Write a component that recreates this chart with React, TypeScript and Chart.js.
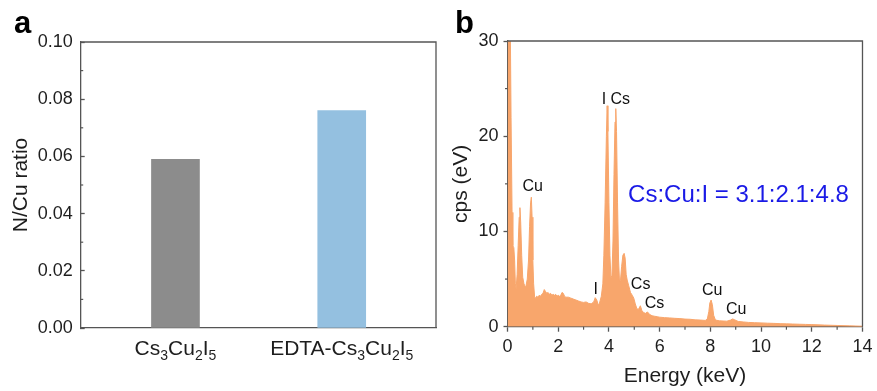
import React, { useEffect, useRef } from 'react';
import { Chart, registerables } from 'chart.js';

Chart.register(...registerables);

const FONT = "Arial, 'Liberation Sans', Helvetica, sans-serif";
const AXIS = '#555555';
const TEXT = '#1e1e1e';

// ---------- Panel a data ----------
const barLabels = ['Cs3Cu2I5', 'EDTA-Cs3Cu2I5'];
const barValues = [0.059, 0.076];
const barColors = ['#8c8c8c', '#94c0e0'];
const ratioMin = 0;
const ratioMax = 0.1;
const ratioStep = 0.02;
const ratioMinorTicks = [0.01, 0.03, 0.05, 0.07, 0.09];

// ---------- Panel b data ----------
const energyKeV = [
  0, 0.05, 0.1, 0.14, 0.18, 0.21, 0.25, 0.28, 0.31, 0.34, 0.38, 0.42, 0.46, 0.49, 0.52, 0.56, 0.6, 0.65, 0.7, 0.73,
  0.78, 0.83, 0.87, 0.91, 0.94, 0.97, 1.0, 1.03, 1.07, 1.1, 1.15, 1.2, 1.25, 1.3, 1.35, 1.4, 1.45, 1.5, 1.55, 1.6,
  1.65, 1.7, 1.75, 1.8, 1.85, 1.9, 1.95, 2.0, 2.05, 2.1, 2.15, 2.2, 2.25, 2.3, 2.4, 2.5, 2.6, 2.7, 2.8, 2.9,
  3.0, 3.1, 3.2, 3.3, 3.4, 3.46, 3.52, 3.58, 3.62, 3.7, 3.76, 3.8, 3.85, 3.9, 3.93, 3.96, 4.0, 4.04, 4.08, 4.12,
  4.16, 4.2, 4.24, 4.27, 4.3, 4.34, 4.38, 4.42, 4.46, 4.5, 4.55, 4.6, 4.64, 4.68, 4.72, 4.78, 4.85, 4.92, 4.98, 5.04,
  5.1, 5.16, 5.24, 5.3, 5.36, 5.44, 5.52, 5.6, 5.7, 5.8, 5.9, 6.0, 6.2, 6.4, 6.6, 6.8, 7.0, 7.2, 7.4, 7.6,
  7.8, 7.88, 7.94, 7.98, 8.03, 8.08, 8.13, 8.2, 8.35, 8.5, 8.65, 8.8, 8.88, 8.96, 9.1, 9.3, 9.5, 9.75, 10.0, 10.25,
  10.5, 10.75, 11.0, 11.25, 11.5, 11.75, 12.0, 12.5, 13.0, 13.5, 14.0,
];
const cps = [
  40, 45, 35, 22, 12, 8.5, 8.3, 7.0, 4.5, 4.0, 5.5, 8.5, 11.5, 12.5, 11.0, 7.5, 5.2, 4.5, 4.2, 4.3,
  5.0, 7.0, 10.5, 13.0, 13.6, 11.5, 7.0, 4.5, 3.1, 3.0, 3.2, 3.1, 3.3, 3.2, 3.4, 3.5, 3.9, 3.7, 3.5, 3.6,
  3.4, 3.5, 3.3, 3.4, 3.3, 3.4, 3.2, 3.3, 3.2, 3.3, 3.6, 3.5, 3.2, 3.1, 3.1, 3.0, 2.9, 2.8, 2.7, 2.6,
  2.55, 2.6, 2.45, 2.4, 2.6, 3.05, 2.8, 2.3, 2.4, 3.2, 4.5, 7.5, 13, 20, 23.2, 20.5, 13, 7.5, 5.1, 5.4,
  9, 16, 21.5, 22.9, 20.5, 13, 7.0, 4.6, 5.0, 6.3, 7.5, 7.7, 7.2, 5.5, 4.9, 4.3, 3.6, 3.3, 3.0, 2.4,
  1.9, 1.8, 2.2, 1.7, 1.5, 1.4, 1.55, 1.3, 1.15, 1.1, 1.05, 1.0, 0.95, 0.92, 0.88, 0.85, 0.8, 0.78, 0.72, 0.7,
  0.66, 0.8, 1.6, 2.5, 2.8, 2.3, 1.2, 0.7, 0.62, 0.6, 0.58, 0.7, 0.82, 0.72, 0.55, 0.5, 0.45, 0.42, 0.4, 0.37,
  0.35, 0.32, 0.3, 0.28, 0.26, 0.24, 0.22, 0.17, 0.13, 0.09, 0.05,
];
const energyMin = 0;
const energyMax = 14;
const energyStep = 2;
const energyMinorTicks = [1, 3, 5, 7, 9, 11, 13];
const cpsMin = 0;
const cpsMax = 30;
const cpsStep = 10;
const cpsMinorTicks = [5, 15, 25];
const spectrumColor = '#f8a66c';

const peakLabels = ['Cu', 'I', 'Cs', 'I', 'Cs', 'Cs', 'Cu', 'Cu'];
const peakLabelEnergy = [0.99, 3.8, 4.45, 3.48, 5.25, 5.8, 8.07, 9.02];
const peakLabelCps = [14.7, 23.8, 23.8, 3.9, 4.4, 2.45, 3.75, 1.75];
const ratioText = 'Cs:Cu:I = 3.1:2.1:4.8';
const ratioTextEnergy = 9.11;
const ratioTextCps = 13.8;

// ---------- helpers ----------
function drawFormula(ctx: CanvasRenderingContext2D, text: string, cx: number, baseline: number, size: number, subSize: number, drop: number) {
  const runs: { t: string; sub: boolean }[] = [];
  const re = /(\d+)|(\D+)/g;
  let m: RegExpExecArray | null;
  while ((m = re.exec(text))) runs.push({ t: m[0], sub: !!m[1] });
  let total = 0;
  const widths = runs.map((r) => {
    ctx.font = `${r.sub ? subSize : size}px ${FONT}`;
    const w = ctx.measureText(r.t).width;
    total += w;
    return w;
  });
  let x = cx - total / 2;
  ctx.textAlign = 'left';
  ctx.textBaseline = 'alphabetic';
  runs.forEach((r, i) => {
    ctx.font = `${r.sub ? subSize : size}px ${FONT}`;
    ctx.fillText(r.t, x, r.sub ? baseline + drop : baseline);
    x += widths[i];
  });
}

const framePlugin = {
  id: 'frame',
  afterDraw(chart: any) {
    const { ctx, chartArea: a } = chart;
    ctx.save();
    ctx.strokeStyle = AXIS;
    ctx.lineWidth = 1.3;
    ctx.beginPath();
    ctx.moveTo(a.left, a.top);
    ctx.lineTo(a.right, a.top);
    ctx.lineTo(a.right, a.bottom);
    ctx.stroke();
    ctx.restore();
  },
};

function minorTicksPlugin(defs: { axis: string; values: number[]; len: number }[]) {
  return {
    id: 'minorTicks',
    afterDraw(chart: any) {
      const ctx = chart.ctx;
      ctx.save();
      ctx.strokeStyle = AXIS;
      ctx.lineWidth = 1.2;
      for (const d of defs) {
        const s = chart.scales[d.axis];
        for (const v of d.values) {
          const p = s.getPixelForValue(v);
          ctx.beginPath();
          if (s.isHorizontal()) {
            ctx.moveTo(p, s.top);
            ctx.lineTo(p, s.top + d.len);
          } else {
            ctx.moveTo(s.right, p);
            ctx.lineTo(s.right - d.len, p);
          }
          ctx.stroke();
        }
      }
      ctx.restore();
    },
  };
}

function letterPlugin(letter: string, x: number, y: number) {
  return {
    id: 'letter',
    afterDraw(chart: any) {
      const ctx = chart.ctx;
      ctx.save();
      ctx.fillStyle = '#000';
      ctx.font = `bold 31px ${FONT}`;
      ctx.textAlign = 'left';
      ctx.textBaseline = 'alphabetic';
      ctx.fillText(letter, x, y);
      ctx.restore();
    },
  };
}

const categoryLabelPlugin = {
  id: 'categoryLabels',
  afterDraw(chart: any) {
    const ctx = chart.ctx;
    const xs = chart.scales.x;
    ctx.save();
    ctx.fillStyle = TEXT;
    barLabels.forEach((lab, i) => {
      drawFormula(ctx, lab, xs.getPixelForValue(i), xs.top + 27, 21, 14, 5);
    });
    ctx.restore();
  },
};

const peakLabelPlugin = {
  id: 'peakLabels',
  afterDraw(chart: any) {
    const ctx = chart.ctx;
    const xs = chart.scales.x;
    const ys = chart.scales.y;
    ctx.save();
    ctx.textAlign = 'center';
    ctx.textBaseline = 'middle';
    ctx.fillStyle = '#111';
    ctx.font = `16px ${FONT}`;
    peakLabels.forEach((lab, i) => {
      ctx.fillText(lab, xs.getPixelForValue(peakLabelEnergy[i]), ys.getPixelForValue(peakLabelCps[i]));
    });
    ctx.fillStyle = '#1a1ae6';
    ctx.font = `24px ${FONT}`;
    ctx.fillText(ratioText, xs.getPixelForValue(ratioTextEnergy), ys.getPixelForValue(ratioTextCps));
    ctx.restore();
  },
};

function PanelA() {
  const ref = useRef<HTMLCanvasElement>(null);
  useEffect(() => {
    const chart = new Chart(ref.current as HTMLCanvasElement, {
      type: 'bar',
      data: {
        datasets: [
          {
            data: barValues.map((v, i) => ({ x: i, y: v })),
            backgroundColor: barColors,
            borderWidth: 0,
            barThickness: 48,
          },
        ],
      },
      options: {
        responsive: false,
        animation: false,
        devicePixelRatio: 1,
        layout: { padding: { left: 0, top: 42, right: 4, bottom: 0 } },
        plugins: { legend: { display: false }, tooltip: { enabled: false } },
        scales: {
          x: {
            type: 'linear',
            min: -0.57,
            max: 1.567,
            offset: false,
            ticks: { display: false },
            grid: { display: true, drawOnChartArea: false, drawTicks: false, offset: false },
            border: { display: true, color: AXIS, width: 1.3 },
            afterFit: (s: any) => {
              s.height = 63;
            },
          },
          y: {
            min: ratioMin,
            max: ratioMax,
            ticks: {
              stepSize: ratioStep,
              color: TEXT,
              font: { family: FONT, size: 18 },
              padding: 12,
              callback: (v: any) => Number(v).toFixed(2),
            },
            grid: { drawOnChartArea: false, tickLength: -4, tickColor: AXIS, tickWidth: 1.3 },
            border: { display: true, color: AXIS, width: 1.3 },
            title: {
              display: true,
              text: 'N/Cu ratio',
              color: TEXT,
              font: { family: FONT, size: 21 },
              padding: { top: 9, bottom: 0 },
            },
            afterFit: (s: any) => {
              s.width = 80.7;
            },
          },
        },
      } as any,
      plugins: [
        framePlugin,
        minorTicksPlugin([{ axis: 'y', values: ratioMinorTicks, len: -2.5 }]),
        categoryLabelPlugin,
        letterPlugin('a', 14, 33),
      ],
    });
    return () => chart.destroy();
  }, []);
  return <canvas ref={ref} width={440} height={391} style={{ position: 'absolute', left: 0, top: 0 }} />;
}

function PanelB() {
  const ref = useRef<HTMLCanvasElement>(null);
  useEffect(() => {
    const chart = new Chart(ref.current as HTMLCanvasElement, {
      type: 'line',
      data: {
        datasets: [
          {
            data: energyKeV.map((e, i) => ({ x: e, y: cps[i] })),
            borderColor: spectrumColor,
            backgroundColor: spectrumColor,
            borderWidth: 1,
            fill: 'origin',
            pointRadius: 0,
            tension: 0,
          },
        ],
      },
      options: {
        responsive: false,
        animation: false,
        devicePixelRatio: 1,
        layout: { padding: { left: 0, top: 41, right: 13.7, bottom: 0 } },
        plugins: { legend: { display: false }, tooltip: { enabled: false } },
        scales: {
          x: {
            type: 'linear',
            min: energyMin,
            max: energyMax,
            ticks: {
              stepSize: energyStep,
              color: TEXT,
              font: { family: FONT, size: 18 },
              padding: 4.5,
              maxRotation: 0,
            },
            grid: { drawOnChartArea: false, tickLength: 5, tickColor: AXIS, tickWidth: 1.3 },
            border: { display: true, color: AXIS, width: 1.3 },
            title: {
              display: true,
              text: 'Energy (keV)',
              color: TEXT,
              font: { family: FONT, size: 21 },
              padding: { top: 0, bottom: 2.4 },
            },
            afterFit: (s: any) => {
              s.height = 64.3;
            },
          },
          y: {
            min: cpsMin,
            max: cpsMax,
            ticks: {
              stepSize: cpsStep,
              color: TEXT,
              font: { family: FONT, size: 18 },
              padding: 5,
            },
            grid: { drawOnChartArea: false, tickLength: 4, tickColor: AXIS, tickWidth: 1.3 },
            border: { display: true, color: AXIS, width: 1.3 },
            title: {
              display: true,
              text: 'cps (eV)',
              color: TEXT,
              font: { family: FONT, size: 21 },
              padding: { top: 9, bottom: 0 },
            },
            afterFit: (s: any) => {
              s.width = 67.5;
            },
          },
        },
      } as any,
      plugins: [
        framePlugin,
        minorTicksPlugin([
          { axis: 'x', values: energyMinorTicks, len: 3 },
          { axis: 'y', values: cpsMinorTicks, len: 2.5 },
        ]),
        peakLabelPlugin,
        letterPlugin('b', 15, 33),
      ],
    });
    return () => chart.destroy();
  }, []);
  return <canvas ref={ref} width={437} height={391} style={{ position: 'absolute', left: 440, top: 0 }} />;
}

export default function App() {
  return (
    <div style={{ position: 'fixed', left: 0, top: 0, width: 877, height: 391, background: '#fff', overflow: 'hidden' }}>
      <PanelA />
      <PanelB />
    </div>
  );
}
